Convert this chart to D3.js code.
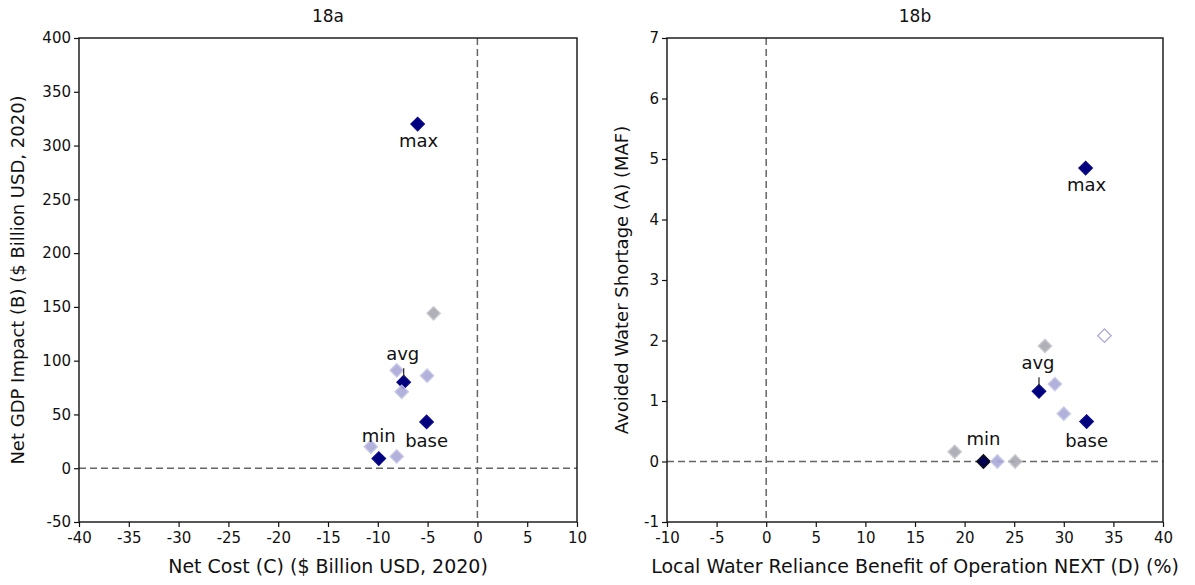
<!DOCTYPE html>
<html><head><meta charset="utf-8">
<script src="https://cdn.jsdelivr.net/npm/d3@7"></script>
<style>body{margin:0;background:#fff;} text{font-family:"DejaVu Sans",sans-serif;fill:#111;}</style>
</head><body>
<svg id="c" width="1195" height="585"></svg>
<script>
// ---- data: panel 18a ----
const costC  = [-6.0, -4.4, -8.1, -5.05, -7.4, -7.6, -5.1, -10.7, -8.1, -9.9];
const gdpB   = [320, 144, 91, 86, 80, 71, 43, 20, 11, 9];
const shadeA = ["dark","gray","light","light","dark","light","dark","light","light","dark"];
const labelsA = [{i:0,t:"max"},{i:4,t:"avg"},{i:9,t:"min"},{i:6,t:"base"}];
// ---- data: panel 18b ----
const relianceD = [32.2, 34.1, 28.1, 29.1, 27.5, 30.0, 32.3, 19.0, 21.9, 23.3, 25.1];
const shortageA = [4.85, 2.08, 1.91, 1.28, 1.16, 0.79, 0.66, 0.16, 0.0, 0.0, 0.0];
const shadeB    = ["dark","hollow","gray","light","dark","light","dark","gray","black","light","gray"];
const labelsB = [{i:0,t:"max"},{i:4,t:"avg"},{i:8,t:"min"},{i:6,t:"base"}];
const ticksAx = [-40,-35,-30,-25,-20,-15,-10,-5,0,5,10];
const ticksAy = [-50,0,50,100,150,200,250,300,350,400];
const ticksBx = [-10,-5,0,5,10,15,20,25,30,35,40];
const ticksBy = [-1,0,1,2,3,4,5,6,7];

const styles = {
  dark:  {fill:"#00007f", stroke:"#0a0a8a", op:1},
  light: {fill:"#a9a9d9", stroke:"#c4c4e6", op:0.9},
  gray:  {fill:"#a8a8b2", stroke:"#c6c6cc", op:0.9},
  hollow:{fill:"#ffffff", stroke:"#a9a9d9", op:1},
  black: {fill:"#000050", stroke:"#111111", op:1}
};
// label placement (offset from point, px)
const labelOffset = {max:[1,23], avg:[-1,-22], min:[0,-17], base:[0,25]};

const svg = d3.select("#c");

function panel(o){
  const x = d3.scaleLinear().domain(o.xd).range([o.x0,o.x1]);
  const y = d3.scaleLinear().domain(o.yd).range([o.y1,o.y0]);
  const g = svg.append("g");
  // dashed zero lines
  g.append("line").attr("x1",x(0)).attr("x2",x(0)).attr("y1",o.y0).attr("y2",o.y1)
    .attr("stroke","#666").attr("stroke-width",1.5).attr("stroke-dasharray","7,4");
  g.append("line").attr("x1",o.x0).attr("x2",o.x1).attr("y1",y(0)).attr("y2",y(0))
    .attr("stroke","#666").attr("stroke-width",1.5).attr("stroke-dasharray","7,4");
  // points
  const pts = o.xs.map((v,i)=>({x:v,y:o.ys[i],s:o.sh[i]}));
  const sym = d3.symbol().type(d3.symbolSquare).size(90);
  g.selectAll("path.pt").data(pts).join("path").attr("class","pt")
    .attr("d",sym)
    .attr("transform",d=>`translate(${x(d.x)},${y(d.y)}) rotate(45)`)
    .attr("fill",d=>styles[d.s].fill).attr("stroke",d=>styles[d.s].stroke)
    .attr("stroke-width",1.3).attr("opacity",d=>styles[d.s].op);
  // labels
  o.labels.forEach(l=>{
    const p = pts[l.i]; const off = labelOffset[l.t];
    const px = x(p.x), py = y(p.y);
    if(l.t==="avg"){
      g.append("line").attr("x1",px).attr("x2",px).attr("y1",py-14).attr("y2",py-5)
        .attr("stroke","#222").attr("stroke-width",1.2);
    }
    g.append("text").attr("x",px+off[0]).attr("y",py+off[1]).attr("text-anchor","middle")
      .attr("font-size",18).text(l.t);
  });
  // axes
  const ax = d3.axisBottom(x).tickValues(o.tx).tickSize(5).tickPadding(5).tickFormat(d=>String(d));
  const ay = d3.axisLeft(y).tickValues(o.ty).tickSize(5).tickPadding(3).tickFormat(d=>String(d));
  const gx = g.append("g").attr("transform",`translate(0,${o.y1})`).call(ax);
  const gy = g.append("g").attr("transform",`translate(${o.x0},0)`).call(ay);
  [gx,gy].forEach(a=>{a.select(".domain").remove();
    a.selectAll("text").attr("font-size",15).attr("font-family","DejaVu Sans").attr("fill","#111");
    a.selectAll("line").attr("stroke","#111").attr("stroke-width",1.2);});
  // frame
  g.append("rect").attr("x",o.x0).attr("y",o.y0).attr("width",o.x1-o.x0).attr("height",o.y1-o.y0)
    .attr("fill","none").attr("stroke","#111").attr("stroke-width",1.4);
  // titles
  g.append("text").attr("x",(o.x0+o.x1)/2).attr("y",22).attr("text-anchor","middle")
    .attr("font-size",17).text(o.title);
  g.append("text").attr("x",(o.x0+o.x1)/2).attr("y",573).attr("text-anchor","middle")
    .attr("font-size",19).text(o.xlab);
  g.append("text").attr("transform",`translate(${o.ylx},${(o.y0+o.y1)/2}) rotate(-90)`)
    .attr("text-anchor","middle").attr("font-size",18).text(o.ylab);
}

panel({xd:[-40,10], yd:[-50,400], x0:79, x1:577, y0:38, y1:522,
  xs:costC, ys:gdpB, sh:shadeA, labels:labelsA, tx:ticksAx, ty:ticksAy,
  title:"18a", xlab:"Net Cost (C) ($ Billion USD, 2020)", ylab:"Net GDP Impact (B) ($ Billion USD, 2020)", ylx:24});
panel({xd:[-10,40], yd:[-1,7], x0:667, x1:1163, y0:38, y1:522,
  xs:relianceD, ys:shortageA, sh:shadeB, labels:labelsB, tx:ticksBx, ty:ticksBy,
  title:"18b", xlab:"Local Water Reliance Benefit of Operation NEXT (D) (%)", ylab:"Avoided Water Shortage (A) (MAF)", ylx:628});
</script>
</body></html>
